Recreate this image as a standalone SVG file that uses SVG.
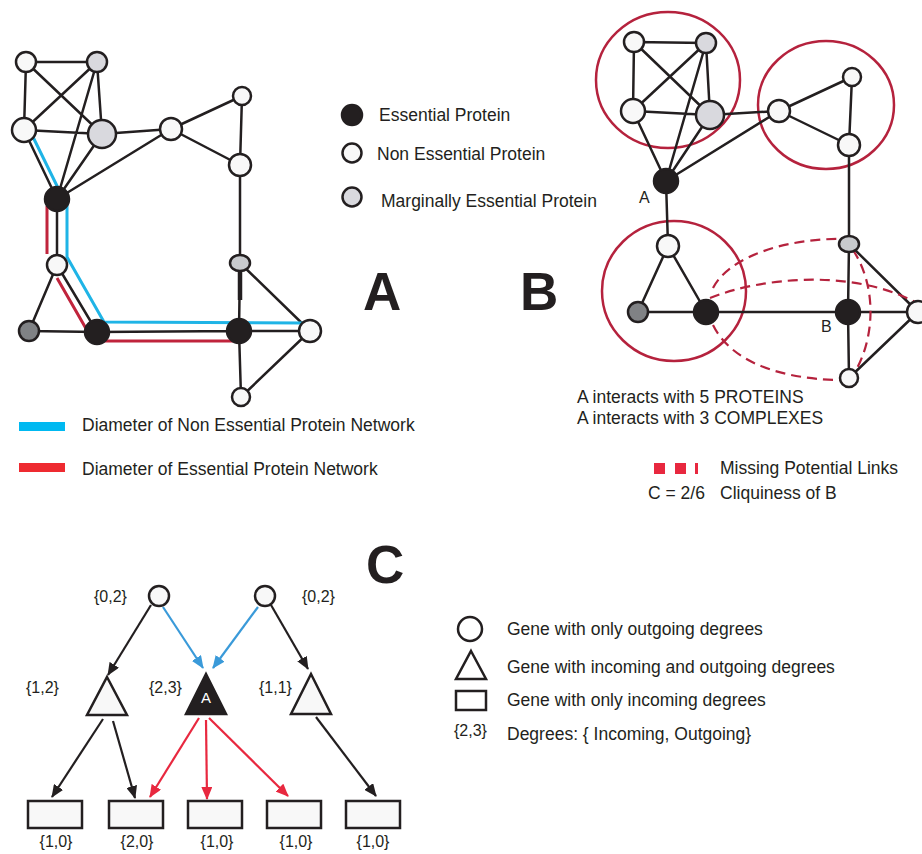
<svg xmlns="http://www.w3.org/2000/svg" width="922" height="854" viewBox="0 0 922 854">
<style>
text{font-family:"Liberation Sans",Arial,sans-serif;fill:#231f20}
.t{font-size:17.5px}
.s{font-size:16px}
.big{font-size:53px;font-weight:bold}
.e{stroke:#231f20;stroke-width:2.5;fill:none}
.n{stroke:#231f20;stroke-width:2.5}
.w{fill:#f8f8f8}
.g{fill:#d9d9de}
.m{fill:#c8cacd}
.d{fill:#808285}
.k{fill:#231f20}
.cx{fill:none;stroke:#b5223d;stroke-width:2.5}
.dash{fill:none;stroke:#b5223d;stroke-width:2.2;stroke-dasharray:10 6}
.ab{stroke:#231f20;stroke-width:2.2;fill:none}
.abl{stroke:#3a9ad9;stroke-width:2.2;fill:none}
.ar{stroke:#e8283f;stroke-width:2.2;fill:none}
</style>
<defs>
<marker id="hk" markerUnits="userSpaceOnUse" markerWidth="13" markerHeight="11" refX="12" refY="5.5" orient="auto"><path d="M0,0 L13,5.5 L0,11 z" fill="#231f20"/></marker>
<marker id="hb" markerUnits="userSpaceOnUse" markerWidth="13" markerHeight="11" refX="12" refY="5.5" orient="auto"><path d="M0,0 L13,5.5 L0,11 z" fill="#3a9ad9"/></marker>
<marker id="hr" markerUnits="userSpaceOnUse" markerWidth="13" markerHeight="11" refX="12" refY="5.5" orient="auto"><path d="M0,0 L13,5.5 L0,11 z" fill="#e8283f"/></marker>
</defs>
<rect width="922" height="854" fill="#ffffff"/>

<!-- ===== Panel A ===== -->
<g id="connectors-A">
<path class="e" d="M26,62 L97,62 M26,62 L24,130 M26,62 L102,134 M97,62 L24,130 M97,62 L102,134 M97,62 L57,199 M24,130 L102,134 M24,130 L57,199 M102,134 L57,199 M102,134 L171,129 M171,129 L57,199 M171,129 L242,96 M171,129 L240,165 M242,96 L240,165 M240,165 L240,263 M240,263 L239,331 M240,263 L310,331 M57,199 L57,265 M57,265 L29,331 M57,265 L97,332 M29,331 L97,332 M97,332 L239,331 M239,331 L310,331 M239,331 L241,397 M310,331 L241,397"/>
<path d="M240,268 L240,300" stroke="#231f20" stroke-width="4.5"/>
<path d="M33,137 L60,192 L67,205 L67,257 L104,322 L303,323" fill="none" stroke="#1fb4e6" stroke-width="3"/>
<path d="M47,206 L47,254 M57,278 L88,332 L97,341 L233,341" fill="none" stroke="#c0243c" stroke-width="3"/>
</g>
<g id="a1"><circle class="n w" cx="26" cy="62" r="10"/></g>
<g id="a2"><circle class="n g" cx="97" cy="62" r="10"/></g>
<g id="a3"><circle class="n w" cx="24" cy="130" r="12"/></g>
<g id="a4"><circle class="n g" cx="102" cy="134" r="14"/></g>
<g id="a5"><circle class="n w" cx="171" cy="129" r="11"/></g>
<g id="a6"><circle class="n w" cx="242" cy="96" r="9"/></g>
<g id="a7"><circle class="n w" cx="240" cy="165" r="11"/></g>
<g id="a8"><circle class="n k" cx="57" cy="199" r="12"/></g>
<g id="a9"><circle class="n w" cx="57" cy="265" r="10"/></g>
<g id="a10"><ellipse class="n m" cx="240" cy="263" rx="10" ry="8"/></g>
<g id="a11"><circle class="n d" cx="29" cy="331" r="10"/></g>
<g id="a12"><circle class="n k" cx="97" cy="332" r="12"/></g>
<g id="a13"><circle class="n k" cx="239" cy="331" r="12"/></g>
<g id="a14"><circle class="n w" cx="310" cy="331" r="11"/></g>
<g id="a15"><circle class="n w" cx="241" cy="397" r="9"/></g>

<g id="legend-A">
<circle class="n k" cx="352" cy="115" r="10"/>
<text class="t" x="379" y="121">Essential Protein</text>
<circle class="n w" cx="352" cy="153" r="9.5"/>
<text class="t" x="377" y="160">Non Essential Protein</text>
<circle class="n g" cx="352" cy="197" r="9.5"/>
<text class="t" x="381" y="207">Marginally Essential Protein</text>
<rect x="19" y="422" width="46" height="9" fill="#00b9f1"/>
<text class="t" x="82" y="431">Diameter of Non Essential Protein Network</text>
<rect x="19" y="463" width="46" height="9" fill="#ee2a30"/>
<text class="t" x="82" y="475">Diameter of Essential Protein Network</text>
</g>
<text class="big" x="363" y="310">A</text>
<text class="big" x="520" y="310">B</text>
<text class="big" x="366" y="583">C</text>

<!-- ===== Panel B ===== -->
<g id="complexes-B">
<ellipse class="cx" cx="668" cy="80" rx="72" ry="68"/>
<ellipse class="cx" cx="826" cy="105" rx="68" ry="64"/>
<ellipse class="cx" cx="674" cy="291" rx="72" ry="70"/>
</g>
<g id="connectors-B">
<path class="e" d="M634,42 L706,43 M634,42 L633,111 M634,42 L710,115 M706,43 L633,111 M706,43 L710,115 M706,43 L666,181 M633,111 L710,115 M633,111 L666,181 M710,115 L666,181 M710,115 L779,111 M779,111 L666,181 M779,111 L852,77 M779,111 L849,145 M852,77 L849,145 M849,145 L849,244 M849,244 L848,312 M849,244 L918,312 M666,181 L668,246 M668,246 L638,312 M668,246 L706,312 M638,312 L706,312 M706,312 L848,312 M848,312 L918,312 M848,312 L849,378 M918,312 L849,378"/>
<path class="dash" d="M713,288 C730,255 790,238 843,239"/>
<path class="dash" d="M710,298 C760,278 850,268 915,302"/>
<path class="dash" d="M713,325 C735,370 800,380 843,380"/>
<path class="dash" d="M853,250 C876,285 876,335 855,372"/>
</g>
<g id="b1"><circle class="n w" cx="634" cy="42" r="10"/></g>
<g id="b2"><circle class="n g" cx="706" cy="43" r="10"/></g>
<g id="b3"><circle class="n w" cx="633" cy="111" r="12"/></g>
<g id="b4"><circle class="n g" cx="710" cy="115" r="14"/></g>
<g id="b5"><circle class="n w" cx="779" cy="111" r="11"/></g>
<g id="b6"><circle class="n w" cx="852" cy="77" r="9"/></g>
<g id="b7"><circle class="n w" cx="849" cy="145" r="11"/></g>
<g id="bA"><circle class="n k" cx="666" cy="181" r="12"/><text x="639" y="203" style="font-size:16px">A</text></g>
<g id="b8"><circle class="n w" cx="668" cy="246" r="11"/></g>
<g id="b9"><circle class="n d" cx="638" cy="312" r="10"/></g>
<g id="b10"><circle class="n k" cx="706" cy="312" r="12"/></g>
<g id="b11"><ellipse class="n m" cx="849" cy="244" rx="10" ry="8"/></g>
<g id="bB"><circle class="n k" cx="848" cy="312" r="12"/><text x="821" y="332" style="font-size:16px">B</text></g>
<g id="b12"><circle class="n w" cx="918" cy="312" r="11"/></g>
<g id="b13"><circle class="n w" cx="849" cy="378" r="9"/></g>

<g id="legend-B">
<text class="t" x="577" y="403">A interacts with 5 PROTEINS</text>
<text class="t" x="577" y="424">A interacts with 3 COMPLEXES</text>
<rect x="654" y="463" width="11" height="11" fill="#e8283f"/>
<rect x="675" y="463" width="11" height="11" fill="#e8283f"/>
<rect x="695" y="463" width="3" height="11" fill="#e8283f"/>
<text class="t" x="720" y="474">Missing Potential Links</text>
<text class="t" x="648" y="499">C = 2/6</text>
<text class="t" x="720" y="499">Cliquiness of B</text>
</g>

<!-- ===== Panel C ===== -->
<g id="connectors-C">
<path class="ab" d="M151,605 L108,675" marker-end="url(#hk)"/>
<path class="abl" d="M163,607 L203,668" marker-end="url(#hb)"/>
<path class="abl" d="M258,607 L213,668" marker-end="url(#hb)"/>
<path class="ab" d="M271,605 L308,669" marker-end="url(#hk)"/>
<path class="ab" d="M103,719 L52,797" marker-end="url(#hk)"/>
<path class="ab" d="M113,721 L135,798" marker-end="url(#hk)"/>
<path class="ar" d="M199,718 L150,797" marker-end="url(#hr)"/>
<path class="ar" d="M206,720 L207,799" marker-end="url(#hr)"/>
<path class="ar" d="M209,718 L288,796" marker-end="url(#hr)"/>
<path class="ab" d="M316,717 L376,796" marker-end="url(#hk)"/>
</g>
<g id="c1"><circle class="n w" cx="159" cy="596" r="10"/><text class="s" x="94" y="602">{0,2}</text></g>
<g id="c2"><circle class="n w" cx="265" cy="596" r="10"/><text class="s" x="302" y="602">{0,2}</text></g>
<g id="t1"><path class="n w" d="M107,677 L127,715 L87,715 z"/><text class="s" x="26" y="693">{1,2}</text></g>
<g id="tA"><path class="n k" d="M206,674 L226,714 L186,714 z"/><text x="206" y="703" text-anchor="middle" style="font-size:15px;fill:#ffffff">A</text><text class="s" x="149" y="693">{2,3}</text></g>
<g id="t2"><path class="n w" d="M311,674 L331,714 L291,714 z"/><text class="s" x="259" y="693">{1,1}</text></g>
<g id="r1"><rect class="n w" x="28" y="801" width="54" height="27"/><text class="s" x="56" y="847" text-anchor="middle">{1,0}</text></g>
<g id="r2"><rect class="n w" x="109" y="801" width="54" height="27"/><text class="s" x="137" y="847" text-anchor="middle">{2,0}</text></g>
<g id="r3"><rect class="n w" x="188" y="801" width="54" height="27"/><text class="s" x="217" y="847" text-anchor="middle">{1,0}</text></g>
<g id="r4"><rect class="n w" x="267" y="801" width="54" height="27"/><text class="s" x="296" y="847" text-anchor="middle">{1,0}</text></g>
<g id="r5"><rect class="n w" x="346" y="801" width="54" height="27"/><text class="s" x="373" y="847" text-anchor="middle">{1,0}</text></g>

<g id="legend-C">
<circle class="n" fill="#ffffff" cx="470" cy="629" r="12"/>
<text class="t" x="507" y="635">Gene with only outgoing degrees</text>
<path class="n" fill="#ffffff" d="M471,651 L486,679 L456,679 z"/>
<text class="t" x="507" y="673">Gene with incoming and outgoing degrees</text>
<rect class="n" fill="#ffffff" x="456" y="691" width="30" height="19"/>
<text class="t" x="507" y="706">Gene with only incoming degrees</text>
<text class="s" x="454" y="736">{2,3}</text>
<text class="t" x="507" y="740">Degrees: { Incoming, Outgoing}</text>
</g>
</svg>
